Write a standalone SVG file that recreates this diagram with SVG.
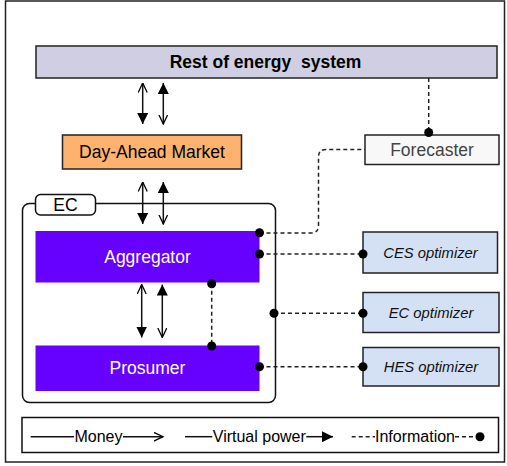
<svg xmlns="http://www.w3.org/2000/svg" width="507" height="466" viewBox="0 0 507 466">
<style>
text{font-family:"Liberation Sans",Arial,sans-serif;font-size:17.5px;text-anchor:middle}
.opt{font-style:italic;font-size:14.8px;fill:#111}
.leg{font-size:16px}
.box{stroke:#222;stroke-width:1.5}
.flow{stroke:#111;stroke-width:1.5;fill:none}
.info{stroke:#222;stroke-width:1.5;fill:none;stroke-dasharray:4,3}
.dot{fill:#000}
</style>
<defs>
<marker id="fill" viewBox="0 0 10 10" refX="10" refY="5" markerWidth="11" markerHeight="11" markerUnits="userSpaceOnUse" orient="auto-start-reverse"><path d="M0,0 L10,5 L0,10 z" fill="#000"/></marker>
<marker id="open" viewBox="0 0 10 10" refX="9.5" refY="5" markerWidth="10" markerHeight="10" markerUnits="userSpaceOnUse" orient="auto-start-reverse"><path d="M0,0.5 L9.5,5 L0,9.5" fill="none" stroke="#000" stroke-width="1.3"/></marker>
</defs>
<rect x="0" y="0" width="507" height="466" fill="#fff"/>
<rect x="5.5" y="1" width="499" height="461" fill="#fff" stroke="#222" stroke-width="1.5"/>

<g id="ec">
<rect x="22.5" y="203.5" width="253" height="199" rx="7" fill="#fff" stroke="#111" stroke-width="1.5"/>
<rect x="35.5" y="194.5" width="60" height="20.5" rx="5" fill="#fff" stroke="#111" stroke-width="1.5"/>
<text x="65.5" y="210.5" font-size="17">EC</text>
</g>
<g id="rest">
<rect class="box" x="36" y="46" width="461" height="32" fill="#d0cee2"/>
<text x="265.5" y="67.5" font-weight="bold" xml:space="preserve" style="white-space:pre">Rest of energy  system</text>
</g>
<g id="dam">
<rect class="box" x="62.5" y="135" width="179" height="34" fill="#fdb36e"/>
<text x="152" y="158">Day-Ahead Market</text>
</g>
<g id="forecaster">
<rect class="box" x="365" y="135" width="134" height="29.5" fill="#f8f8f8"/>
<text x="432" y="155.5" fill="#444">Forecaster</text>
</g>
<g id="aggregator">
<rect x="35.5" y="231" width="224" height="51.5" fill="#6600ff"/>
<text x="147.5" y="262.5" fill="#fff">Aggregator</text>
</g>
<g id="prosumer">
<rect x="35.5" y="345.5" width="224" height="45.5" fill="#6600ff"/>
<text x="147.5" y="374" fill="#fff">Prosumer</text>
</g>
<g id="ces">
<rect class="box" x="363" y="232" width="134.5" height="41" fill="#d4e1f4"/>
<text class="opt" x="430.5" y="257.5">CES optimizer</text>
</g>
<g id="ecopt">
<rect class="box" x="363" y="292.5" width="136" height="40" fill="#d4e1f4"/>
<text class="opt" x="431" y="318">EC optimizer</text>
</g>
<g id="hes">
<rect class="box" x="363" y="347.5" width="136" height="38.5" fill="#d4e1f4"/>
<text class="opt" x="431" y="372">HES optimizer</text>
</g>

<g id="connectors">
<line class="flow" x1="142.7" y1="83" x2="142.7" y2="124" marker-start="url(#open)" marker-end="url(#fill)"/>
<line class="flow" x1="163.3" y1="83" x2="163.3" y2="124" marker-start="url(#fill)" marker-end="url(#open)"/>
<line class="flow" x1="142.7" y1="182" x2="142.7" y2="224" marker-start="url(#open)" marker-end="url(#fill)"/>
<line class="flow" x1="163.3" y1="182" x2="163.3" y2="224" marker-start="url(#fill)" marker-end="url(#open)"/>
<line class="flow" x1="141.7" y1="284.5" x2="141.7" y2="337.5" marker-start="url(#open)" marker-end="url(#fill)"/>
<line class="flow" x1="162.3" y1="284.5" x2="162.3" y2="337.5" marker-start="url(#fill)" marker-end="url(#open)"/>

<line class="info" x1="428.7" y1="78" x2="428.7" y2="132.5"/>
<circle class="dot" cx="428.7" cy="132.5" r="4.5"/>
<path class="info" d="M259.5,233 H311 Q318.5,233 318.5,225.5 V157 Q318.5,149.5 326,149.5 H365"/>
<circle class="dot" cx="259.5" cy="232.7" r="4.5"/>
<line class="info" x1="259.5" y1="254" x2="363" y2="254"/>
<circle class="dot" cx="259.5" cy="254" r="4.5"/>
<circle class="dot" cx="363" cy="254" r="4.5"/>
<line class="info" x1="274" y1="313.3" x2="363" y2="313.3"/>
<circle class="dot" cx="274" cy="313.3" r="4.5"/>
<circle class="dot" cx="363" cy="313.3" r="4.5"/>
<line class="info" x1="259.5" y1="366.7" x2="363" y2="366.7"/>
<circle class="dot" cx="259.5" cy="366.7" r="4.5"/>
<circle class="dot" cx="363" cy="366.7" r="4.5"/>
<line class="info" x1="211.7" y1="283.7" x2="211.7" y2="346"/>
<circle class="dot" cx="211.7" cy="283.7" r="4.5"/>
<circle class="dot" cx="211.7" cy="346" r="4.5"/>
</g>

<g id="legend">
<rect x="22" y="417.5" width="476.5" height="35" fill="#fff" stroke="#111" stroke-width="1.5"/>
<line class="flow" x1="30.7" y1="436.7" x2="74" y2="436.7" stroke-width="1"/>
<text class="leg" x="98.5" y="442">Money</text>
<line class="flow" x1="123" y1="436.7" x2="163" y2="436.7" stroke-width="1" marker-end="url(#open)"/>
<line class="flow" x1="185" y1="436.7" x2="212.3" y2="436.7" stroke-width="1"/>
<text class="leg" x="259.3" y="442">Virtual power</text>
<line class="flow" x1="306.3" y1="436.7" x2="333" y2="436.7" stroke-width="1" marker-end="url(#fill)"/>
<line class="info" x1="351.7" y1="436.7" x2="375" y2="436.7" stroke-width="1" stroke-dasharray="3,3"/>
<text class="leg" x="415" y="442">Information</text>
<line class="info" x1="455" y1="436.7" x2="480" y2="436.7" stroke-width="1" stroke-dasharray="3,3"/>
<circle class="dot" cx="480" cy="436.7" r="4.5"/>
</g>
</svg>
